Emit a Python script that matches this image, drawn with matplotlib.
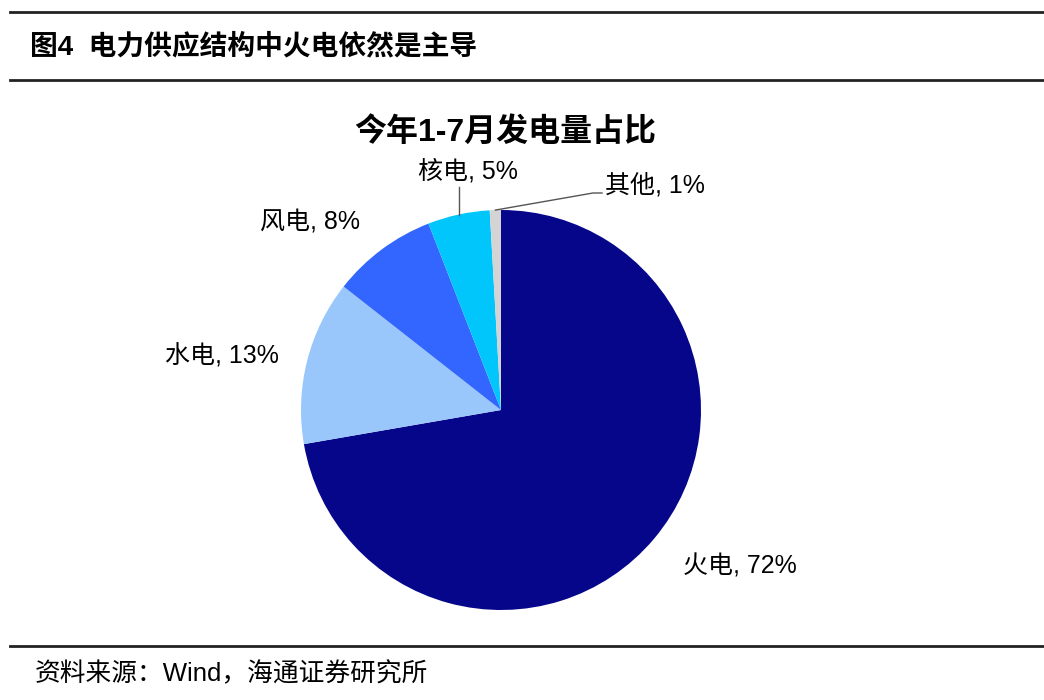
import numpy as np
import matplotlib
matplotlib.use('Agg')
import matplotlib.pyplot as plt

plt.rcParams['font.family'] = ['Liberation Sans', 'Noto Sans CJK SC']

# data (wedge shares, %)
categories = ['火电', '水电', '风电', '核电', '其他']
shares = [72.2, 13.3, 8.5, 5.0, 0.9]
label_pct = ['72%', '13%', '8%', '5%', '1%']
colors = ['#06068a', '#99c7fb', '#3366ff', '#00c6fb', '#d4d4d4']

fig = plt.figure(figsize=(10.44, 7.0), dpi=100)

# header / footer rules
for y in [1 - 12 / 700, 1 - 80 / 700, 1 - 646 / 700]:
    fig.add_artist(plt.Line2D([10 / 1044, 1.0], [y, y], color='#222222', lw=2.0))

fig.text(30 / 1044, 1 - 47 / 700, '图4  电力供应结构中火电依然是主导', fontsize=20,
         fontweight='bold', va='center', ha='left')
fig.text(35 / 1044, 1 - 674 / 700, '资料来源：Wind，海通证券研究所', fontsize=18.5,
         va='center', ha='left')

ax = fig.add_axes([301 / 1044, 90 / 700, 400 / 1044, 400 / 700])
wedges, _ = ax.pie(shares, colors=colors, startangle=90, counterclock=False,
                   radius=1.0, wedgeprops=dict(linewidth=0))
ax.set_xlim(-1, 1)
ax.set_ylim(-1, 1)
ax.set_aspect('equal')
ax.axis('off')

ax.text(0.02, 1.39, '今年1-7月发电量占比', fontsize=23, fontweight='bold',
        ha='center', va='center')

# label positions (data coords, radius = 1)
text_pos = [(1.195, -0.78), (-1.395, 0.27), (-0.955, 0.94), (-0.165, 1.195), (0.52, 1.125)]
for i, w in enumerate(wedges):
    mid = np.deg2rad((w.theta1 + w.theta2) / 2)
    edge = (np.cos(mid), np.sin(mid))
    txt = categories[i] + ', ' + label_pct[i]
    tx, ty = text_pos[i]
    if categories[i] == '核电':
        ax.plot([edge[0], edge[0]], [edge[1], 1.115], color='#555555', lw=1.0,
                clip_on=False, zorder=5)
        ax.text(tx, ty, txt, fontsize=18, ha='center', va='center')
    elif categories[i] == '其他':
        ax.plot([edge[0], 0.46, 0.505], [edge[1], 1.085, 1.085], color='#555555', lw=1.0,
                clip_on=False, zorder=5)
        ax.text(tx, ty, txt, fontsize=18, ha='left', va='center')
    else:
        ax.text(tx, ty, txt, fontsize=18, ha='center', va='center')

fig.savefig('out.png', dpi=100)
